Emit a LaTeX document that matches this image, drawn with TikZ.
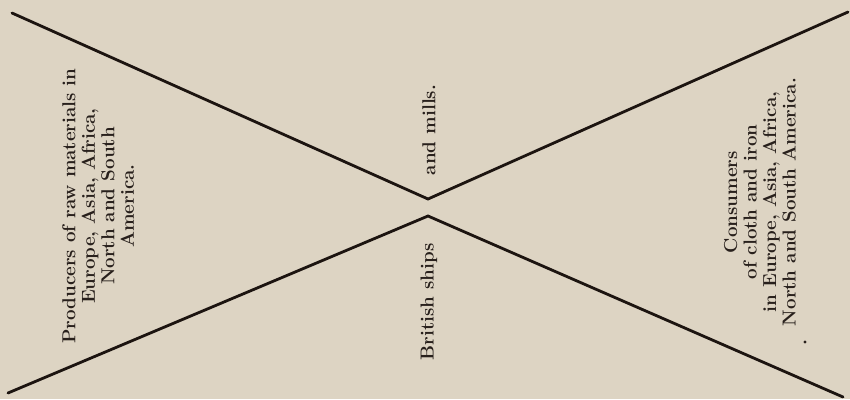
\documentclass[tikz,border=0pt]{standalone}
\definecolor{paper}{RGB}{221,212,195}
\definecolor{ink}{RGB}{28,20,16}
\definecolor{textink}{RGB}{40,32,28}
\begin{document}
\begin{tikzpicture}[x=1pt,y=-1pt,
  lbl/.style={rotate=90,align=center,text=textink,inner sep=0pt,
    font=\fontsize{18.8}{19.5}\selectfont\bfseries},
  rule/.style={draw=ink,line width=2.8pt,line cap=round,line join=miter}]
\fill[paper] (0,0) rectangle (850,399);
\useasboundingbox (0,0) rectangle (850,399);
% upper V
\coordinate (ul) at (12,13);
\coordinate (uv) at (428,199);
\coordinate (ur) at (848,12);
% lower inverted V
\coordinate (ll) at (8,393);
\coordinate (lv) at (428,216);
\coordinate (lr) at (843,397);
\draw[rule] (ul) -- (uv) -- (ur);
\draw[rule] (ll) -- (lv) -- (lr);
\node[lbl] (prod) at (98,206) {Producers of raw materials in\\Europe, Asia, Africa,\\North and South\\America.};
\node[lbl] (mills) at (429,130) {and mills.};
\node[lbl] (ships) at (429,302) {British ships};
\node[lbl] (cons) at (760,202) {Consumers\\of cloth and iron\\in Europe, Asia, Africa,\\North and South America.};
\fill[textink] (805,342) circle (1.6);
\end{tikzpicture}
\end{document}
